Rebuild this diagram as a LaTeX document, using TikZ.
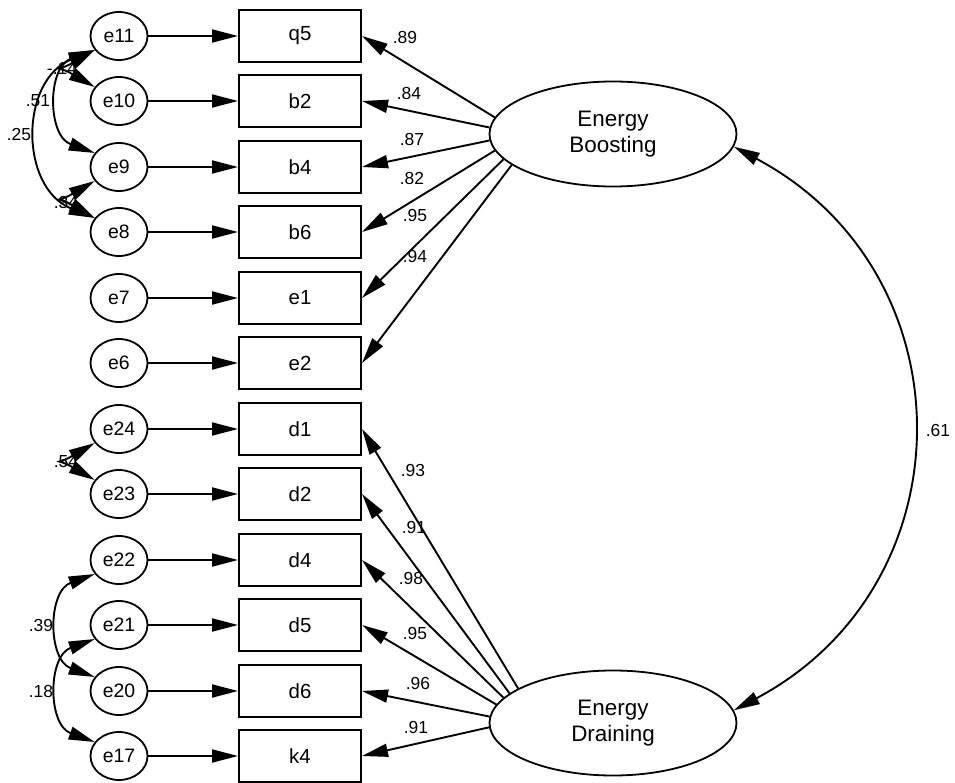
\documentclass[tikz,border=0pt]{standalone}
\usepackage{fontspec}
\setmainfont{Liberation Sans}
\usetikzlibrary{shapes.geometric,arrows.meta}

\begin{document}
\begin{tikzpicture}[x=1bp,y=1bp,
        observed/.style={draw,line width=2bp,fill=white,minimum width=122bp,minimum height=52bp,inner sep=0pt,font=\fontsize{20.5}{24}\selectfont},
        errvar/.style={draw,ellipse,line width=1.8bp,fill=white,minimum width=57bp,minimum height=48bp,inner sep=0pt,font=\fontsize{19.5}{23}\selectfont},
        latent/.style={draw,ellipse,line width=1.8bp,fill=white,minimum width=247bp,minimum height=105bp,inner sep=0pt,align=center,font=\fontsize{22.5}{26}\selectfont},
        coef/.style={inner sep=0pt,font=\fontsize{17.5}{20}\selectfont},
        loading/.style={-{Triangle[length=26bp,width=13bp]},line width=1.9bp},
        cov/.style={{Triangle[length=26bp,width=13bp]}-{Triangle[length=26bp,width=13bp]},line width=1.9bp}
    ]

    \useasboundingbox (0,0) rectangle (955,-783);

    % observed items
    \node[observed] (q5) at (300,-36) {q5};
    \node[observed] (b2) at (300,-101) {b2};
    \node[observed] (b4) at (300,-167) {b4};
    \node[observed] (b6) at (300,-232) {b6};
    \node[observed] (e1) at (300,-298) {e1};
    \node[observed] (e2) at (300,-363) {e2};
    \node[observed] (d1) at (300,-429) {d1};
    \node[observed] (d2) at (300,-494) {d2};
    \node[observed] (d4) at (300,-560) {d4};
    \node[observed] (d5) at (300,-625) {d5};
    \node[observed] (d6) at (300,-691) {d6};
    \node[observed] (k4) at (300,-756) {k4};

    % error terms
    \node[errvar] (err11) at (119,-36) {e11};
    \node[errvar] (err10) at (119,-101) {e10};
    \node[errvar] (err9) at (119,-167) {e9};
    \node[errvar] (err8) at (119,-232) {e8};
    \node[errvar] (err7) at (119,-298) {e7};
    \node[errvar] (err6) at (119,-363) {e6};
    \node[errvar] (err24) at (119,-429) {e24};
    \node[errvar] (err23) at (119,-494) {e23};
    \node[errvar] (err22) at (119,-560) {e22};
    \node[errvar] (err21) at (119,-625) {e21};
    \node[errvar] (err20) at (119,-691) {e20};
    \node[errvar] (err17) at (119,-756) {e17};

    % factors
    \node[latent] (boost) at (613,-134) {Energy\\Boosting};
    \node[latent] (drain) at (613,-723) {Energy\\Draining};

    \draw[loading] (err11) -- (q5);
    \draw[loading] (err10) -- (b2);
    \draw[loading] (err9) -- (b4);
    \draw[loading] (err8) -- (b6);
    \draw[loading] (err7) -- (e1);
    \draw[loading] (err6) -- (e2);
    \draw[loading] (err24) -- (d1);
    \draw[loading] (err23) -- (d2);
    \draw[loading] (err22) -- (d4);
    \draw[loading] (err21) -- (d5);
    \draw[loading] (err20) -- (d6);
    \draw[loading] (err17) -- (k4);

    \draw[loading] (boost.172) -- (q5.east);
    \draw[loading] (boost.177) -- (b2.east);
    \draw[loading] (boost.183) -- (b4.east);
    \draw[loading] (boost.188) -- (b6.east);
    \draw[loading] (boost.193) -- (e1.east);
    \draw[loading] (boost.197) -- (e2.east);

    \draw[loading] (drain.160) -- (d1.east);
    \draw[loading] (drain.164) -- (d2.east);
    \draw[loading] (drain.167) -- (d4.east);
    \draw[loading] (drain.171) -- (d5.east);
    \draw[loading] (drain.177) -- (d6.east);
    \draw[loading] (drain.182) -- (k4.east);

    % correlated errors
    \draw[cov] (err11.210) to[out=210,in=150,looseness=3.4] (err10.150);
    \draw[cov] (err11.210) to[out=200,in=160,looseness=1.26] (err9.150);
    \draw[cov] (err11.210) to[out=202,in=158,looseness=1.24] (err8.150);
    \draw[cov] (err9.210) to[out=210,in=150,looseness=3.2] (err8.150);
    \draw[cov] (err24.210) to[out=210,in=150,looseness=3.2] (err23.150);
    \draw[cov] (err22.210) to[out=200,in=160,looseness=1.25] (err20.150);
    \draw[cov] (err21.210) to[out=200,in=160,looseness=1.25] (err17.150);
    \draw[cov] (boost.-6) to[out=-28,in=28,looseness=1.22] (drain.6);

    % estimates
    \node[coef] (c1) at (405,-37) {.89};
    \node[coef] (c2) at (409,-93) {.84};
    \node[coef] (c3) at (412,-139) {.87};
    \node[coef] (c4) at (412,-178) {.82};
    \node[coef] (c5) at (415,-215) {.95};
    \node[coef] (c6) at (415,-256) {.94};
    \node[coef] (c7) at (413,-470) {.93};
    \node[coef] (c8) at (414,-527) {.91};
    \node[coef] (c9) at (411,-578) {.98};
    \node[coef] (c10) at (415,-633) {.95};
    \node[coef] (c11) at (418,-683) {.96};
    \node[coef] (c12) at (416,-727) {.91};
    \node[coef] (r1) at (938,-430) {.61};
    \node[coef] (r2) at (62,-69) {-.14};
    \node[coef] (r3) at (38,-101) {.51};
    \node[coef] (r4) at (19,-134) {.25};
    \node[coef] (r5) at (66,-202) {.34};
    \node[coef] (r6) at (66,-462) {.54};
    \node[coef] (r7) at (41,-625) {.39};
    \node[coef] (r8) at (41,-691) {.18};

\end{tikzpicture}
\end{document}
